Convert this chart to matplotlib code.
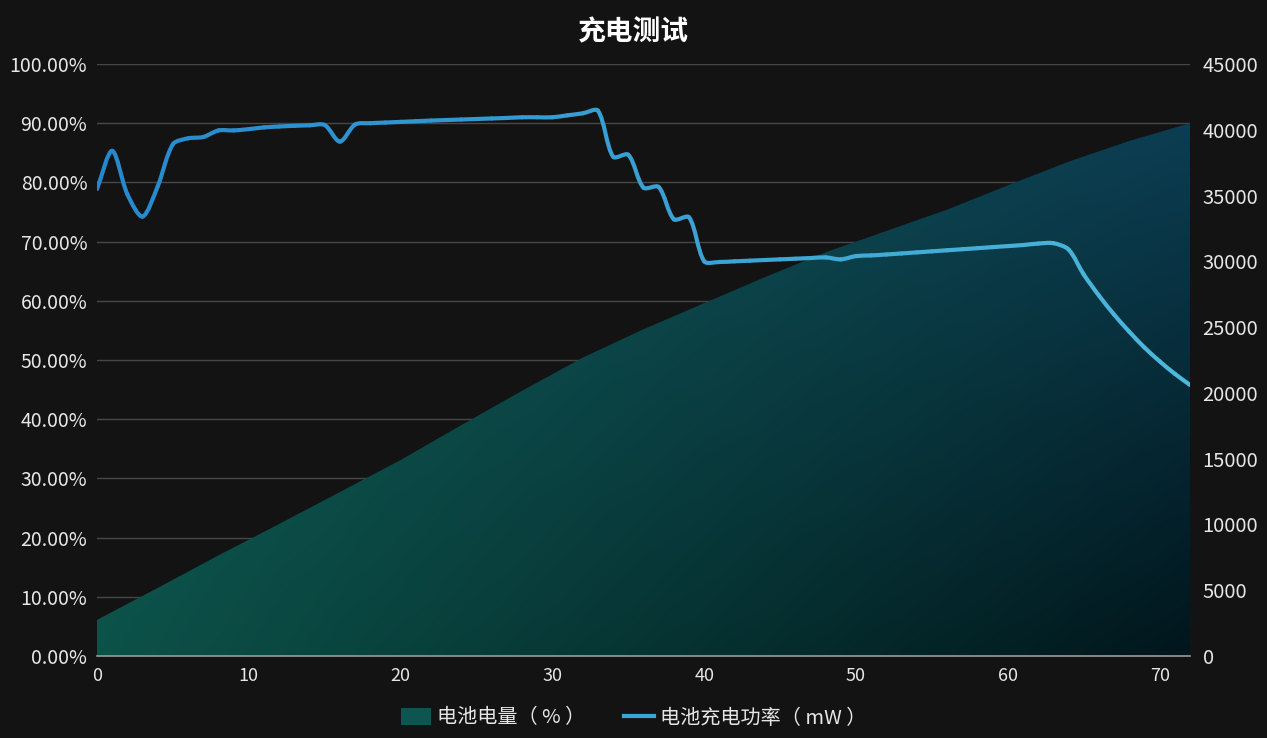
import numpy as np
import matplotlib
matplotlib.use('Agg')
import matplotlib.pyplot as plt
from matplotlib.path import Path
from matplotlib.patches import PathPatch, Patch
from matplotlib.lines import Line2D
from matplotlib.colors import to_rgb

plt.rcParams['font.family'] = ['Noto Sans CJK SC', 'DejaVu Sans']

# 电池电量 (%), read every 4 minutes
level_min = [0, 4, 8, 12, 16, 20, 24, 28, 32, 36, 40, 44, 48, 52, 56, 60, 64, 68, 72]
level_pct = [6.1, 11.5, 17.0, 22.3, 27.7, 33.1, 39.0, 44.8, 50.4, 55.2, 59.6,
             64.0, 68.2, 71.8, 75.4, 79.5, 83.5, 87.0, 90.0]

# 电池充电功率 (mW), read every minute
power_min = list(range(73))
power_mw = [35500, 38400, 35100, 33400, 35700, 38900, 39350, 39450, 39950, 39950,
            40050, 40180, 40250, 40300, 40340, 40360, 39100, 40400, 40500, 40550,
            40600, 40650, 40700, 40740, 40780, 40820, 40860, 40900, 40950, 40950,
            40950, 41100, 41250, 41450, 37950, 38100, 35600, 35650, 33200, 33350,
            30000, 29950, 30000, 30050, 30100, 30150, 30200, 30250, 30300, 30150,
            30400, 30450, 30520, 30600, 30680, 30760, 30840, 30920, 31000, 31080,
            31160, 31240, 31350, 31380, 30900, 29000, 27400, 25950, 24650, 23450,
            22400, 21450, 20600]

left_ticks = list(range(0, 101, 10))
right_ticks = list(range(0, 45001, 5000))
x_ticks = list(range(0, 71, 10))

bg = '#131313'
text_col = '#e6e6e6'

fig = plt.figure(figsize=(12.67, 7.38), dpi=100, facecolor=bg)
ax = fig.add_axes([97 / 1267, 1 - 656 / 738, (1190 - 97) / 1267, (656 - 64) / 738])
ax.set_facecolor(bg)
ax2 = ax.twinx()

ax.set_xlim(0, 72)
ax.set_ylim(0, 100)
ax2.set_ylim(0, 45000)

ax.set_yticks(left_ticks)
ax.set_yticklabels(['%.2f%%' % t for t in left_ticks])
ax2.set_yticks(right_ticks)
ax2.set_yticklabels([str(t) for t in right_ticks])
ax.set_xticks(x_ticks)

for a in (ax, ax2):
    for s in a.spines.values():
        s.set_visible(False)
ax.spines['bottom'].set_visible(True)
ax.spines['bottom'].set_color('#9a9a9a')
ax.spines['bottom'].set_linewidth(1.2)

ax.tick_params(axis='y', length=0, pad=7, labelsize=14, labelcolor=text_col)
ax.tick_params(axis='x', length=0, pad=8, labelsize=13, labelcolor=text_col)
ax2.tick_params(axis='y', length=0, pad=9, labelsize=14.5, labelcolor=text_col)

ax.set_axisbelow(True)
ax.yaxis.grid(True, color='#474747', linewidth=1.0)

# area with 2d gradient
poly = ax.fill_between(level_min, level_pct, 0, facecolor='none', edgecolor='none')
c_bl = np.array(to_rgb('#0c5249'))
c_tl = np.array(to_rgb('#116058'))
c_tr = np.array(to_rgb('#0c3d52'))
c_br = np.array(to_rgb('#01161c'))
u = np.linspace(0, 1, 300)[None, :, None]
v = np.linspace(1, 0, 300)[:, None, None]
img = (c_bl * (1 - u) * (1 - v) + c_tl * (1 - u) * v
       + c_tr * u * v + c_br * u * (1 - v))
im = ax.imshow(img, extent=[0, 72, 0, 90], aspect='auto', origin='upper',
               zorder=1, interpolation='bilinear')
im.set_clip_path(poly.get_paths()[0], transform=ax.transData)
ax.set_xlim(0, 72)
ax.set_ylim(0, 100)

# smooth line, bezier segments built in display space
pts = ax2.transData.transform(np.column_stack([power_min, power_mw]))
n = len(pts)
smooth = 0.3
cp_prev = np.zeros_like(pts)
cp_next = np.zeros_like(pts)
for i in range(n):
    p = pts[i]
    prv = pts[i - 1] if i > 0 else p
    nxt = pts[i + 1] if i < n - 1 else p
    vec = nxt - prv
    d0 = np.hypot(*(p - prv))
    d1 = np.hypot(*(nxt - p))
    tot = d0 + d1
    if tot > 0:
        d0, d1 = d0 / tot, d1 / tot
    cp_prev[i] = p - vec * smooth * d0
    cp_next[i] = p + vec * smooth * d1

inv = ax2.transData.inverted()
c0 = np.array(to_rgb('#2688cc'))
c1 = np.array(to_rgb('#4cb8da'))
for i in range(n - 1):
    verts = inv.transform(np.array([pts[i], cp_next[i], cp_prev[i + 1], pts[i + 1]]))
    t = (power_min[i] + 0.5) / 72
    col = c0 * (1 - t) + c1 * t
    patch = PathPatch(Path(verts, [Path.MOVETO, Path.CURVE4, Path.CURVE4, Path.CURVE4]),
                      facecolor='none', edgecolor=col, linewidth=3.0,
                      capstyle='round', joinstyle='round', zorder=3)
    ax2.add_patch(patch)

fig.text(0.5, 1 - 32 / 738, '充电测试', ha='center', va='center',
         color='white', fontsize=20, fontweight='bold')

handles = [Patch(facecolor='#0e5450', edgecolor='none'),
           Line2D([0], [0], color='#3aa6d8', linewidth=3)]
labels = ['电池电量（ % ）', '电池充电功率（ mW ）']
leg = fig.legend(handles, labels, loc='center', bbox_to_anchor=(0.5, 1 - 718 / 738),
                 ncol=2, frameon=False, fontsize=14.5, labelcolor=text_col,
                 handlelength=1.5, handleheight=0.9, handletextpad=0.3,
                 columnspacing=1.9)

fig.savefig('out.png', dpi=100, facecolor=bg)
